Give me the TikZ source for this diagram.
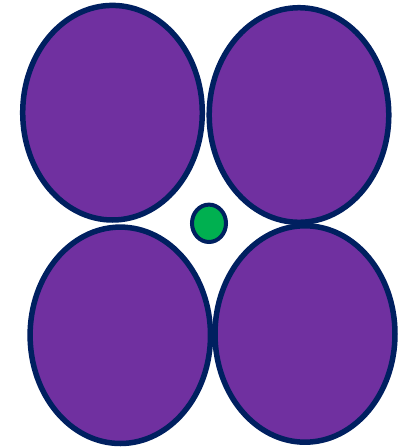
\documentclass[tikz,border=0pt]{standalone}
\definecolor{petal}{HTML}{7030A0}
\definecolor{rim}{HTML}{002060}
\definecolor{core}{HTML}{00B050}
\begin{document}
\begin{tikzpicture}[x=1pt,y=-1pt,
  petalstyle/.style={fill=petal,draw=rim,line width=5.5pt},
  corestyle/.style={fill=core,draw=rim,line width=4pt}]
\useasboundingbox (0,0) rectangle (413,448);
\fill[white] (0,0) rectangle (413,448);
\draw[petalstyle] (112.5,112.7) ellipse [x radius=89.8, y radius=107.3];
\draw[petalstyle] (299,115) ellipse [x radius=89.8, y radius=107.3];
\draw[petalstyle] (120.3,335.3) ellipse [x radius=90.2, y radius=108.2];
\draw[petalstyle] (305,334) ellipse [x radius=90, y radius=108.2];
\draw[corestyle] (209,223.3) ellipse [x radius=17, y radius=18.7];
\end{tikzpicture}
\end{document}
